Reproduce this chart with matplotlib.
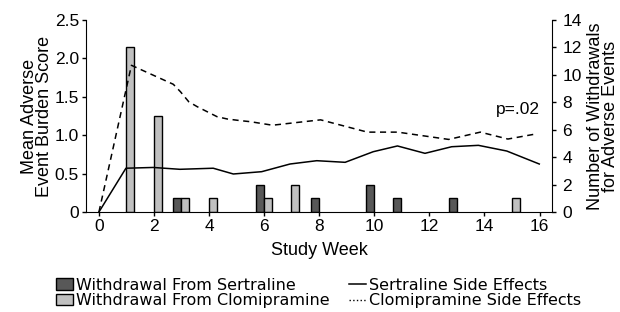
import matplotlib
matplotlib.use("Agg")
import matplotlib.pyplot as plt
from matplotlib.patches import Patch
from matplotlib.lines import Line2D

plt.rcParams['font.family'] = ['Liberation Sans', 'DejaVu Sans']

# Withdrawals (counts, right axis)
sert_wd_weeks = [3, 6, 8, 10, 11, 13]
sert_wd_counts = [1, 2, 1, 2, 1, 1]
clom_wd_weeks = [1, 2, 3, 4, 6, 7, 15]
clom_wd_counts = [12, 7, 1, 1, 1, 2, 1]

# Mean adverse event burden score (left axis)
sert_weeks = [0, 0.98, 1.97, 2.94, 4.15, 4.88, 5.91, 6.94, 7.91, 8.94, 9.96,
              10.84, 11.84, 12.81, 13.78, 14.81, 15.99]
sert_score = [0, 0.57, 0.58, 0.556, 0.57, 0.495, 0.525, 0.625, 0.668, 0.647,
              0.785, 0.86, 0.764, 0.85, 0.868, 0.794, 0.625]
clom_weeks = [0, 1.18, 2.7, 2.96, 3.26, 3.57, 3.93, 4.29, 4.66, 5.15, 5.5,
              6.3, 8.05, 9.75, 10.85, 12.7, 13.85, 14.85, 15.85]
clom_score = [0, 1.91, 1.663, 1.566, 1.436, 1.371, 1.306, 1.241, 1.211, 1.189,
              1.176, 1.13, 1.2, 1.04, 1.04, 0.945, 1.04, 0.95, 1.015]

x_ticks = [0, 2, 4, 6, 8, 10, 12, 14, 16]
left_ticks = [0, 0.5, 1.0, 1.5, 2.0, 2.5]
left_labels = ['0', '0.5', '1.0', '1.5', '2.0', '2.5']
right_ticks = [0, 2, 4, 6, 8, 10, 12, 14]

dark = '#585858'
light = '#c0c0c0'
fs_tick = 12.5
fs_lab = 13

fig = plt.figure(figsize=(6.2, 3.12), dpi=100)
ax = fig.add_axes([0.1387, 0.3205, 0.7524, 0.6154])
ax2 = ax.twinx()

bw = 0.29
ax2.bar([w - 0.16 for w in sert_wd_weeks], sert_wd_counts, width=bw,
        color=dark, edgecolor='black', linewidth=1.0, zorder=2)
ax2.bar([w + 0.13 for w in clom_wd_weeks], clom_wd_counts, width=bw,
        color=light, edgecolor='black', linewidth=1.0, zorder=2)

ax.set_zorder(ax2.get_zorder() + 1)
ax.patch.set_visible(False)
ax.plot(sert_weeks, sert_score, color='black', lw=1.1, zorder=3)
ax.plot(clom_weeks, clom_score, color='black', lw=1.1, ls=(0, (4, 3)), zorder=3)

ax.set_xlim(-0.47, 16.47)
ax.set_ylim(0, 2.5)
ax2.set_ylim(0, 14)
ax.set_xticks(x_ticks)
ax.set_yticks(left_ticks)
ax.set_yticklabels(left_labels)
ax2.set_yticks(right_ticks)

for a in (ax, ax2):
    a.spines['top'].set_visible(False)
    a.tick_params(labelsize=fs_tick, length=3, width=1, pad=2, color='black')
ax2.tick_params(axis='y', pad=4)
ax.spines['right'].set_visible(False)
ax2.spines['left'].set_visible(False)
ax2.spines['bottom'].set_visible(False)

ax.set_ylabel('Mean Adverse\nEvent Burden Score', fontsize=fs_lab, linespacing=0.85, labelpad=1)
ax2.set_ylabel('Number of Withdrawals\nfor Adverse Events', fontsize=fs_lab, linespacing=0.85, labelpad=4)
ax.set_xlabel('Study Week', fontsize=fs_lab, labelpad=6)

ax.text(16.0, 1.33, 'p=.02', fontsize=12.5, ha='right', va='center')

handles = [Patch(facecolor=dark, edgecolor='black'),
           Patch(facecolor=light, edgecolor='black'),
           Line2D([], [], color='black', lw=1.1),
           Line2D([], [], color='black', lw=1.0, ls=':')]
labels = ['Withdrawal From Sertraline', 'Withdrawal From Clomipramine',
          'Sertraline Side Effects', 'Clomipramine Side Effects']
fig.legend(handles, labels, loc='upper left', bbox_to_anchor=(0.09, 0.11),
           ncol=2, frameon=False, prop={'family': 'DejaVu Sans', 'size': 11.5},
           handlelength=1.1, handleheight=0.7,
           handletextpad=0.15, columnspacing=1.2, labelspacing=0.05,
           borderpad=0, borderaxespad=0)

fig.savefig('out.png', dpi=100)
